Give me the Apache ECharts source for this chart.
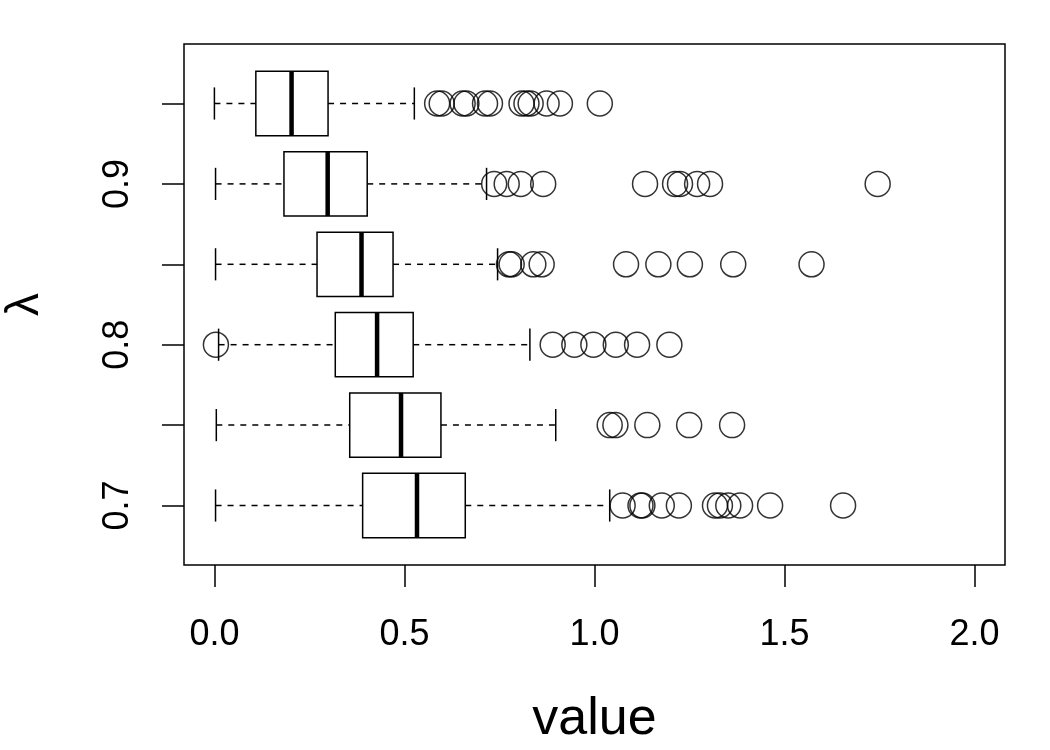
<!DOCTYPE html>
<html>
<head>
<meta charset="utf-8">
<script src="https://cdn.jsdelivr.net/npm/echarts@6/dist/echarts.min.js"></script>
<style>html,body{margin:0;padding:0;background:#fff;}#chart{width:1050px;height:750px;}</style>
</head>
<body>
<div id="chart"></div>
<script>
// Data
const lambdas     = [0.7, 0.75, 0.8, 0.85, 0.9, 0.95];
const whiskerLow  = [0.003, 0.005, 0.011, 0.003, 0.003, 0.0];
const q1          = [0.390, 0.356, 0.318, 0.270, 0.183, 0.109];
const medians     = [0.533, 0.491, 0.428, 0.387, 0.298, 0.203];
const q3          = [0.660, 0.596, 0.523, 0.470, 0.402, 0.299];
const whiskerHigh = [1.040, 0.898, 0.830, 0.745, 0.716, 0.526];
const outliers = [
  [1.074, 1.121, 1.126, 1.177, 1.222, 1.317, 1.330, 1.352, 1.383, 1.462, 1.654],
  [1.040, 1.055, 1.139, 1.249, 1.362],
  [0.004, 0.890, 0.947, 0.997, 1.056, 1.112, 1.197],
  [0.775, 0.782, 0.839, 0.861, 1.083, 1.168, 1.251, 1.365, 1.571],
  [0.736, 0.769, 0.806, 0.865, 1.133, 1.212, 1.225, 1.270, 1.304, 1.745],
  [0.586, 0.598, 0.653, 0.663, 0.712, 0.725, 0.808, 0.821, 0.832, 0.874, 0.909, 1.014]
];
const xTicks = [0, 0.5, 1.0, 1.5, 2.0];
const yTicks = [0.7, 0.75, 0.8, 0.85, 0.9, 0.95];
const yLabels = [0.7, 0.8, 0.9];

const boxData = lambdas.map((l, i) => [l, whiskerLow[i], q1[i], medians[i], q3[i], whiskerHigh[i]]);
const outlierData = [];
outliers.forEach((arr, i) => arr.forEach(v => outlierData.push([v, lambdas[i]])));

const FONT = '"Liberation Sans", Arial, sans-serif';
const chart = echarts.init(document.getElementById('chart'), null, {renderer: 'canvas'});
chart.setOption({
  backgroundColor: '#fff',
  animation: false,
  grid: {left: 184, right: 45, top: 44, bottom: 185, outerBoundsMode: 'none', containLabel: false,
         show: true, borderColor: '#000', borderWidth: 1.5, backgroundColor: 'transparent'},
  xAxis: {
    type: 'value', min: -0.08, max: 2.08,
    name: 'value', nameLocation: 'middle', nameGap: 129,
    nameTextStyle: {fontFamily: FONT, fontSize: 52, color: '#000'},
    axisLine: {show: false, onZero: false},
    splitLine: {show: false},
    axisTick: {show: true, length: 22, customValues: xTicks, lineStyle: {color: '#000', width: 1.5}},
    axisLabel: {customValues: xTicks, margin: 52, fontFamily: FONT, fontSize: 36, color: '#000', formatter: v => v.toFixed(1)}
  },
  yAxis: {
    type: 'value', min: 0.663, max: 0.987,
    name: 'λ', nameLocation: 'middle', nameGap: 136, nameRotate: 90,
    nameTextStyle: {fontFamily: FONT, fontSize: 46, color: '#000'},
    axisLine: {show: false, onZero: false},
    splitLine: {show: false},
    axisTick: {show: true, length: 22, customValues: yTicks, lineStyle: {color: '#000', width: 1.5}},
    axisLabel: {customValues: yLabels, rotate: 90, margin: 48, fontFamily: FONT, fontSize: 36, color: '#000', formatter: v => v.toFixed(1)}
  },
  series: [
    {
      type: 'custom',
      data: boxData,
      encode: {x: [1, 2, 3, 4, 5], y: 0},
      renderItem: function (params, api) {
        const l = api.value(0);
        const wl = api.coord([api.value(1), l]);
        const b1 = api.coord([api.value(2), l]);
        const md = api.coord([api.value(3), l]);
        const b3 = api.coord([api.value(4), l]);
        const wh = api.coord([api.value(5), l]);
        const h = api.size([0, 0.04])[1];
        const cap = h / 2;
        const y = wl[1];
        const line = {stroke: '#000', lineWidth: 1.5};
        const dash = {stroke: '#000', lineWidth: 1.5, lineDash: [6, 6]};
        return {
          type: 'group',
          children: [
            {type: 'line', shape: {x1: wl[0], y1: y, x2: b1[0], y2: y}, style: dash},
            {type: 'line', shape: {x1: b3[0], y1: y, x2: wh[0], y2: y}, style: dash},
            {type: 'line', shape: {x1: wl[0], y1: y - cap / 2, x2: wl[0], y2: y + cap / 2}, style: line},
            {type: 'line', shape: {x1: wh[0], y1: y - cap / 2, x2: wh[0], y2: y + cap / 2}, style: line},
            {type: 'rect', shape: {x: b1[0], y: y - h / 2, width: b3[0] - b1[0], height: h}, style: {fill: '#fff', stroke: '#000', lineWidth: 1.5}},
            {type: 'line', shape: {x1: md[0], y1: y - h / 2, x2: md[0], y2: y + h / 2}, style: {stroke: '#000', lineWidth: 4.5}}
          ]
        };
      },
      z: 2
    },
    {
      type: 'scatter',
      data: outlierData,
      symbol: 'circle',
      symbolSize: 25,
      itemStyle: {color: 'transparent', borderColor: '#000', borderWidth: 1.5},
      z: 3
    }
  ]
});
</script>
</body>
</html>
